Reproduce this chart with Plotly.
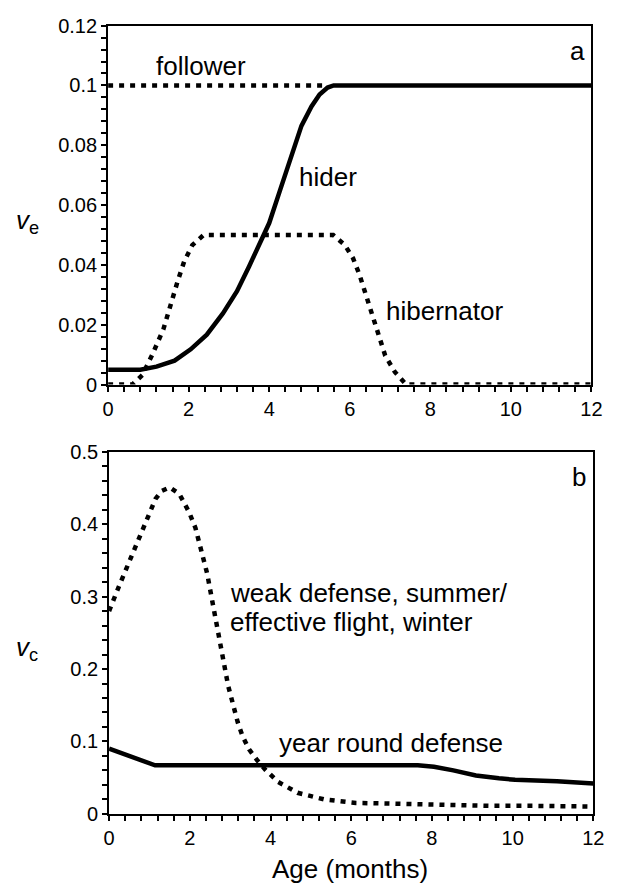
import plotly.graph_objects as go

# ---- Panel a data ----
follower_x = [0, 5.4]
follower_y = [0.1, 0.1]

hider_x = [0, 0.8, 1.2, 1.65, 2.05, 2.45, 2.85, 3.2, 3.5, 3.75, 4.0, 4.27, 4.55, 4.8, 5.05, 5.25, 5.45, 5.6, 12]
hider_y = [0.005, 0.005, 0.006, 0.008, 0.0118, 0.0167, 0.0238, 0.0312, 0.0395, 0.0465, 0.054, 0.065, 0.077, 0.0865, 0.093, 0.097, 0.0993, 0.1, 0.1]

hib_x = [0, 0.6, 0.85, 1.09, 1.37, 1.53, 1.73, 1.89, 2.09, 2.37, 5.59, 5.88, 6.08, 6.24, 6.40, 6.56, 6.72, 6.88, 7.12, 7.4, 12]
hib_y = [0, 0, 0.0032, 0.0098, 0.0184, 0.026, 0.0347, 0.0412, 0.0466, 0.05, 0.05, 0.0466, 0.0423, 0.0368, 0.0303, 0.0227, 0.0162, 0.0097, 0.0042, 0, 0]

# ---- Panel b data ----
weak_x = [0, 0.1, 0.25, 0.4, 0.55, 0.7, 0.85, 1.0, 1.15, 1.3, 1.5, 1.74, 1.98, 2.14, 2.26, 2.43, 2.55, 2.65, 2.77, 2.87, 2.95, 3.03, 3.11, 3.19, 3.31, 3.47, 3.67, 3.87, 4.19, 4.67, 5.32, 6.12, 7.08, 8.29, 9.49, 10.5, 11.74, 12]
weak_y = [0.28, 0.295, 0.315, 0.335, 0.355, 0.377, 0.398, 0.418, 0.435, 0.446, 0.451, 0.442, 0.417, 0.395, 0.368, 0.332, 0.296, 0.265, 0.229, 0.197, 0.177, 0.16, 0.143, 0.126, 0.107, 0.089, 0.074, 0.061, 0.044, 0.029, 0.020, 0.015, 0.014, 0.012, 0.011, 0.011, 0.011, 0.01]

year_x = [0, 0.66, 1.14, 7.65, 8.05, 8.53, 9.09, 9.66, 10.06, 11.1, 12]
year_y = [0.09, 0.076, 0.067, 0.067, 0.065, 0.060, 0.053, 0.049, 0.047, 0.045, 0.042]

FONT = "Liberation Sans, Arial, sans-serif"
DOT = "5px,6px"

fig = go.Figure()
fig.add_trace(go.Scatter(x=follower_x, y=follower_y, mode="lines", xaxis="x", yaxis="y",
                         line=dict(color="black", width=4.5, dash=DOT)))
fig.add_trace(go.Scatter(x=hib_x, y=hib_y, mode="lines", xaxis="x", yaxis="y",
                         line=dict(color="black", width=4.5, dash=DOT)))
fig.add_trace(go.Scatter(x=hider_x, y=hider_y, mode="lines", xaxis="x", yaxis="y",
                         line=dict(color="black", width=4.5)))
fig.add_trace(go.Scatter(x=weak_x, y=weak_y, mode="lines", xaxis="x2", yaxis="y2",
                         line=dict(color="black", width=4.5, dash=DOT)))
fig.add_trace(go.Scatter(x=year_x, y=year_y, mode="lines", xaxis="x2", yaxis="y2",
                         line=dict(color="black", width=4.5)))

W, H = 617, 896
def px_x(p): return p / W
def px_y(p): return 1 - p / H

minor_common = dict(ticks="outside", ticklen=5, tickwidth=2, tickcolor="black")
axis_common = dict(showline=True, linecolor="black", linewidth=2, mirror=True,
                   showgrid=False, zeroline=False, ticks="outside", ticklen=5,
                   tickwidth=2, tickcolor="black",
                   tickfont=dict(family=FONT, size=20, color="black"))

fig.update_layout(
    width=W, height=H, margin=dict(l=0, r=0, t=0, b=0),
    paper_bgcolor="white", plot_bgcolor="white", showlegend=False,
    xaxis=dict(domain=[px_x(105), px_x(602)], anchor="y", range=[0, 12], dtick=2,
               minor=dict(dtick=0.4, **minor_common), **axis_common),
    yaxis=dict(domain=[px_y(383), px_y(15)], anchor="x", range=[0, 0.12], dtick=0.02,
               minor=dict(dtick=0.004, **minor_common), **axis_common),
    xaxis2=dict(domain=[px_x(106), px_x(604)], anchor="y2", range=[0, 12], dtick=2,
                minor=dict(dtick=0.4, **minor_common), **axis_common),
    yaxis2=dict(domain=[px_y(823), px_y(452)], anchor="x2", range=[0, 0.5], dtick=0.1,
                minor=dict(dtick=0.02, **minor_common), **axis_common),
)

tf = dict(family=FONT, size=26, color="black")
mid = dict(xanchor="center", yanchor="middle", showarrow=False, font=tf)
left = dict(xanchor="left", yanchor="middle", showarrow=False, font=tf)
ann = [
    dict(x=2.3, y=0.1065, xref="x", yref="y", text="follower", **mid),
    dict(x=4.7, y=0.0695, xref="x", yref="y", text="hider", **left),
    dict(x=6.85, y=0.0245, xref="x", yref="y", text="hibernator", **left),
    dict(x=11.65, y=0.1115, xref="x", yref="y", text="a", **mid),
    dict(x=2.95, y=0.305, xref="x2", yref="y2", text="weak defense, summer/", **left),
    dict(x=2.95, y=0.265, xref="x2", yref="y2", text="effective flight, winter", **left),
    dict(x=4.15, y=0.098, xref="x2", yref="y2", text="year round defense", **left),
    dict(x=11.65, y=0.465, xref="x2", yref="y2", text="b", **mid),
    dict(x=px_x(22), y=px_y(216), xref="paper", yref="paper", text="<i>v</i><sub>e</sub>", **mid),
    dict(x=px_x(22), y=px_y(654), xref="paper", yref="paper", text="<i>v</i><sub>c</sub>", **mid),
    dict(x=px_x(354), y=px_y(880), xref="paper", yref="paper", text="Age (months)", **mid),
]
fig.update_layout(annotations=ann)

fig.write_html("out.html", config={"displayModeBar": False},
               post_script="document.body.style.margin='0';document.body.style.padding='0';document.body.style.overflow='hidden';")
